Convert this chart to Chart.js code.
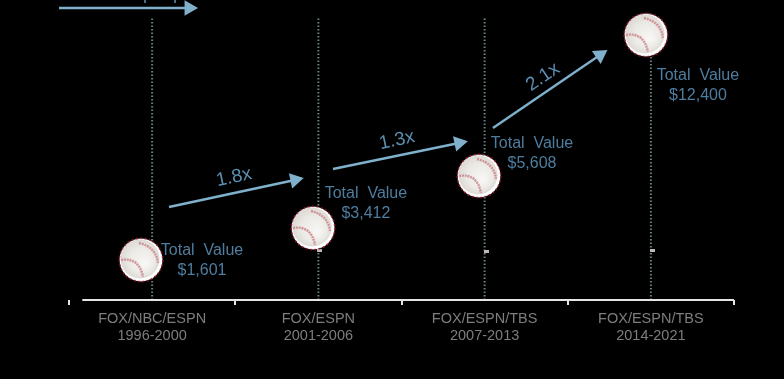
<!DOCTYPE html>
<html>
<head>
<meta charset="utf-8">
<style>
  html, body { margin: 0; padding: 0; background: #000; }
  #wrap { width: 784px; height: 379px; }
</style>
<script src="https://cdn.jsdelivr.net/npm/chart.js@4"></script>
</head>
<body>
<div id="wrap"><canvas id="chart" width="784" height="379"></canvas></div>
<script>
// Chart values
const networks = ['FOX/NBC/ESPN', 'FOX/ESPN', 'FOX/ESPN/TBS', 'FOX/ESPN/TBS'];
const periods = ['1996-2000', '2001-2006', '2007-2013', '2014-2021'];
const totalValues = [1601, 3412, 5608, 12400];
const ballLevels = [1870, 3360, 5790, 12370];
const tickMarkLevels = [2290, 2290, 2260, 2290];
const multiples = ['1.8x', '1.3x', '2.1x'];

// Slide annotations, in axis units (x is category index, y is dollars)
const ballX = [-0.067, 0.968, 1.966, 2.97];
const tickMarkX = [0, 1.007, 2.011, 3.01];
const dropTop = 13160;
const arrows = [
  { from: [-0.56, 13626], to: [0.222, 13626] },
  { from: [0.1015, 4340], to: [0.859, 5600] },
  { from: [1.088, 6113], to: [1.846, 7326] },
  { from: [2.05, 8026], to: [2.694, 11433] }
];
const clippedStrokes = [-0.043, 0.138];
const baselineFrom = -0.42;
const multipleAt = [[0.4925, 5720, -12], [1.473, 7446, -12], [2.351, 10406, -34]];
const valueLabelAt = [[0.3, 2310], [1.286, 4970], [2.285, 7300], [3.283, 10475]];

const BLUE_LINE = '#7fb0cc';
const BLUE_TEXT = '#4f7d9f';

function makeBall() {
  const c = document.createElement('canvas');
  c.width = 46; c.height = 46;
  const g = c.getContext('2d');
  g.fillStyle = '#ffffff';
  g.beginPath(); g.arc(23, 23, 21.5, 0, Math.PI * 2); g.fill();
  const grad = g.createRadialGradient(27, 27, 2, 22, 22, 20);
  grad.addColorStop(0, '#f7f6f4');
  grad.addColorStop(0.6, '#eceae6');
  grad.addColorStop(1, '#dcd9d4');
  g.fillStyle = grad;
  g.beginPath(); g.arc(22, 22, 19.5, 0, Math.PI * 2); g.fill();
  // red dotted rim
  g.strokeStyle = '#8e1a2a';
  g.lineWidth = 1.5;
  g.setLineDash([2, 2.4]);
  g.beginPath(); g.arc(23, 23, 21.8, 0, Math.PI * 2); g.stroke();
  // seams
  g.strokeStyle = '#cf9296';
  g.lineWidth = 2.4;
  g.setLineDash([2, 0.8]);
  g.beginPath(); g.moveTo(3, 23); g.quadraticCurveTo(21, 20, 25, 40); g.stroke();
  g.beginPath(); g.moveTo(21, 6); g.quadraticCurveTo(38, 10, 40, 26); g.stroke();
  return c;
}

function makeTickMark() {
  const c = document.createElement('canvas');
  c.width = 5; c.height = 3;
  const g = c.getContext('2d');
  g.fillStyle = '#b9b9b9';
  g.fillRect(0, 0, 5, 3);
  return c;
}

const baseballImg = makeBall();
const tickMarkImg = makeTickMark();

// one dotted drop line per category
const dropLines = networks.map((_, i) => ({
  type: 'line',
  xAxisID: 'xPos',
  data: [{ x: i, y: 0 }, { x: i, y: dropTop }],
  borderColor: '#66807f',
  borderWidth: 2,
  borderDash: [1.5, 2],
  pointRadius: 0,
  order: 5
}));

const arrowLines = arrows.map(a => ({
  type: 'line',
  xAxisID: 'xPos',
  data: [{ x: a.from[0], y: a.from[1] }, { x: a.to[0], y: a.to[1] }],
  borderColor: BLUE_LINE,
  borderWidth: 2.4,
  pointStyle: 'triangle',
  pointRadius: [0, 9],
  pointBackgroundColor: BLUE_LINE,
  pointBorderWidth: 0,
  clip: false,
  order: 3
}));

// bottoms of a label cut off by the top of the picture
const strokeLines = clippedStrokes.map(x => ({
  type: 'line',
  xAxisID: 'xPos',
  data: [{ x: x, y: 13860 }, { x: x, y: 14000 }],
  borderColor: '#5b8eb0',
  borderWidth: 1.5,
  pointRadius: 0,
  clip: false,
  order: 3
}));

const baseline = {
  type: 'line',
  xAxisID: 'xPos',
  data: [{ x: baselineFrom, y: 0 }, { x: 3.5, y: 0 }],
  borderColor: '#e4e4e4',
  borderWidth: 2,
  pointRadius: 0,
  clip: false,
  order: 4
};

// text that sits on the chart but is not a tick label
const slideText = {
  id: 'slideText',
  afterDatasetsDraw(chart) {
    const g = chart.ctx;
    const xs = chart.scales.xPos;
    const ys = chart.scales.y;
    g.save();
    g.textAlign = 'center';
    g.textBaseline = 'middle';
    g.fillStyle = BLUE_TEXT;
    g.font = '16px "Liberation Sans"';
    totalValues.forEach((v, i) => {
      const x = xs.getPixelForValue(valueLabelAt[i][0]);
      const y = ys.getPixelForValue(valueLabelAt[i][1]);
      g.fillText('Total  Value', x, y);
      g.fillText('$' + v.toLocaleString('en-US'), x, y + 20);
    });
    g.fillStyle = '#5b8eb0';
    g.font = '19px "Liberation Sans"';
    multiples.forEach((m, i) => {
      const p = multipleAt[i];
      g.save();
      g.translate(xs.getPixelForValue(p[0]), ys.getPixelForValue(p[1]));
      g.rotate(p[2] * Math.PI / 180);
      g.fillText(m, 0, 0);
      g.restore();
    });
    g.restore();
  }
};

// arrow heads follow the direction of their line
const arrowHeads = {
  id: 'arrowHeads',
  beforeDatasetsDraw(chart) {
    chart.data.datasets.forEach((ds, i) => {
      if (ds.pointStyle !== 'triangle') return;
      const pts = chart.getDatasetMeta(i).data;
      const angle = Math.atan2(pts[1].y - pts[0].y, pts[1].x - pts[0].x) * 180 / Math.PI + 90;
      pts[1].options.rotation = angle;
    });
  }
};

new Chart(document.getElementById('chart'), {
  type: 'line',
  data: {
    labels: networks.map((n, i) => [n, periods[i]]),
    datasets: [
      {
        label: 'Total value',
        xAxisID: 'xPos',
        data: ballLevels.map((v, i) => ({ x: ballX[i], y: v })),
        showLine: false,
        pointStyle: baseballImg,
        order: 1
      },
      {
        label: 'Marks',
        xAxisID: 'xPos',
        data: tickMarkLevels.map((v, i) => ({ x: tickMarkX[i], y: v })),
        showLine: false,
        pointStyle: tickMarkImg,
        order: 4
      },
      baseline,
      ...arrowLines,
      ...strokeLines,
      ...dropLines
    ]
  },
  options: {
    responsive: false,
    animation: false,
    events: [],
    layout: { padding: { left: 69, right: 50, top: 0, bottom: 0 } },
    plugins: { legend: { display: false }, tooltip: { enabled: false } },
    scales: {
      x: {
        type: 'category',
        offset: true,
        grid: { drawOnChartArea: false, drawTicks: true, tickLength: 5, color: '#e4e4e4', lineWidth: 2, offset: true },
        border: { display: false },
        ticks: {
          color: '#7d7d7d',
          font: { family: '"Liberation Sans"', size: 14.5 },
          maxRotation: 0,
          padding: 5,
          autoSkip: false
        },
        afterFit(scale) { scale.height = 79; }
      },
      xPos: { type: 'linear', display: false, min: -0.5, max: 3.5 },
      y: { display: false, min: 0, max: 13580 }
    }
  },
  plugins: [arrowHeads, slideText]
});
</script>
</body>
</html>
